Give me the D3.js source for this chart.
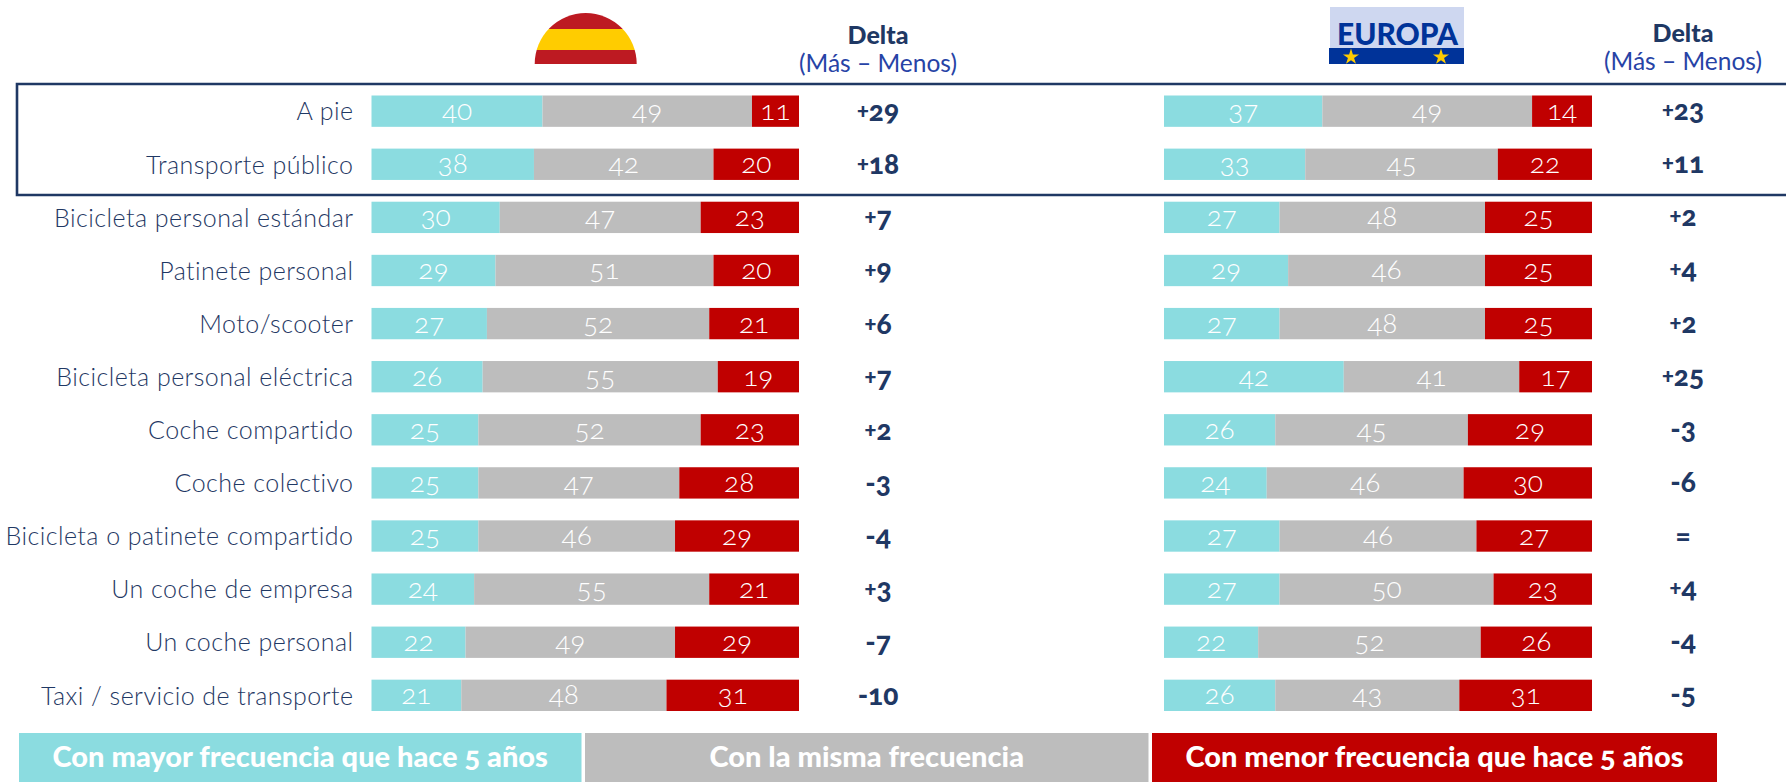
<!DOCTYPE html>
<html><head><meta charset="utf-8">
<script src="https://cdn.jsdelivr.net/npm/d3@7"></script>
<style>
html,body{margin:0;padding:0;background:#fff}
svg{display:block}
text{font-family:Lato,"Open Sans",sans-serif;font-feature-settings:"onum" 1,"lnum" 0;font-variant-numeric:oldstyle-nums}
</style></head><body>
<svg id="c" width="1786" height="782"></svg>
<script>
const categories=["A pie","Transporte público","Bicicleta personal estándar","Patinete personal","Moto/scooter","Bicicleta personal eléctrica","Coche compartido","Coche colectivo","Bicicleta o patinete compartido","Un coche de empresa","Un coche personal","Taxi / servicio de transporte"];
const spainMore=[40,38,30,29,27,26,25,25,25,24,22,21];
const spainSame=[49,42,47,51,52,55,52,47,46,55,49,48];
const spainLess=[11,20,23,20,21,19,23,28,29,21,29,31];
const spainDelta=["+29","+18","+7","+9","+6","+7","+2","-3","-4","+3","-7","-10"];
const europeMore=[37,33,27,29,27,42,26,24,27,27,22,26];
const europeSame=[49,45,48,46,48,41,45,46,46,50,52,43];
const europeLess=[14,22,25,25,25,17,29,30,27,23,26,31];
const europeDelta=["+23","+11","+2","+4","+2","+25","-3","-6","=","+4","-4","-5"];
const legendLabels=["Con mayor frecuencia que hace 5 años","Con la misma frecuencia","Con menor frecuencia que hace 5 años"];
const colors=["#8bdce0","#bdbdbd","#c00000"];
const navy="#1f3864", subBlue="#2743a6";

const svg=d3.select("#c");
const y=d3.scaleBand().domain(categories).range([95.5,711]).paddingInner(0.41);

// category labels
const axis=svg.append("g").attr("transform","translate(371.5,0)")
  .call(d3.axisLeft(y).tickSize(0).tickPadding(18));
axis.select(".domain").remove();
axis.selectAll("text").attr("fill",navy).attr("dy","0.37em").style("font-size","25px").style("font-weight",300).style("font-family","Lato").style("letter-spacing","0.45px");

function panel(x0,x1,more,same,less,delta,deltaX,deltaShift){
  const x=d3.scaleLinear().domain([0,100]).range([x0,x1]);
  const rows=categories.map((c,i)=>{
    const vals=[more[i],same[i],less[i]];
    let acc=0;
    return {c,segs:vals.map((v,k)=>{const s={v,k,a:acc,b:acc+v};acc+=v;return s;})};
  });
  const g=svg.append("g").selectAll("g").data(rows).join("g");
  g.selectAll("rect").data(d=>d.segs.map(s=>({...s,c:d.c}))).join("rect")
    .attr("x",d=>x(d.a)).attr("width",d=>x(d.b)-x(d.a))
    .attr("y",d=>y(d.c)).attr("height",y.bandwidth()).attr("fill",d=>colors[d.k]);
  g.selectAll("text").data(d=>d.segs.map(s=>({...s,c:d.c}))).join("text")
    .attr("x",d=>x((d.a+d.b)/2)).attr("y",d=>y(d.c)+y.bandwidth()/2+9)
    .attr("text-anchor","middle").attr("fill","#fff").style("font-size","28px").style("font-weight",300)
    .text(d=>d.v);
  const dt=svg.append("g").selectAll("text").data(categories).join("text")
    .attr("x",deltaX).attr("y",c=>y(c)+y.bandwidth()/2+9+deltaShift)
    .attr("text-anchor","middle").attr("fill",navy).style("font-size","28px").style("font-weight",900);
  dt.each(function(c,i){
    const s=delta[i], t=d3.select(this), sign=s[0];
    if(sign==="+"){
      t.append("tspan").attr("dy",-3).style("font-size","22px").text("+");
      t.append("tspan").attr("dy",3).text(s.slice(1));
    }else t.text(s);
  });
}
panel(371.5,799,spainMore,spainSame,spainLess,spainDelta,878,1);
panel(1164,1592,europeMore,europeSame,europeLess,europeDelta,1683,0);

// highlight frame (open on the right)
svg.append("path").attr("d","M1786,84 H17 V195 H1786").attr("fill","none").attr("stroke",navy).attr("stroke-width",2.6);

// column heads
[[878,43.5,72],[1683,41.5,70]].forEach(([cx,a,b])=>{
  svg.append("text").attr("x",cx).attr("y",a).attr("text-anchor","middle").attr("fill",navy).style("font-size","25px").style("font-weight",900).text("Delta");
  svg.append("text").attr("x",cx).attr("y",b).attr("text-anchor","middle").attr("fill",subBlue).style("font-size","24.5px").style("font-weight",400).text("(Más – Menos)");
});

// Spanish flag half disc
const defs=svg.append("defs");
defs.append("clipPath").attr("id","half").append("path").attr("d",d3.arc()({innerRadius:0,outerRadius:51,startAngle:-Math.PI/2,endAngle:Math.PI/2})).attr("transform","translate(585.7,64)");
const flag=svg.append("g").attr("clip-path","url(#half)");
[[13,29,"#bd1a22"],[29,50,"#ffcc00"],[50,64,"#bd1a22"]].forEach(([a,b,f])=>flag.append("rect").attr("x",534).attr("width",104).attr("y",a).attr("height",b-a).attr("fill",f));

// Europa badge
svg.append("rect").attr("x",1330).attr("y",7).attr("width",134).attr("height",41).attr("fill","#ced7f0");
svg.append("rect").attr("x",1329).attr("y",48).attr("width",135).attr("height",16).attr("fill","#003399");
svg.append("text").attr("x",1397.5).attr("y",44.5).attr("text-anchor","middle").attr("fill","#003399")
  .attr("textLength",121).attr("lengthAdjust","spacingAndGlyphs").style("font-size","31px").style("font-weight",900).text("EUROPA");
[1351,1441].forEach(cx=>svg.append("path").attr("d",d3.symbol(d3.symbolStar,80)()).attr("transform",`translate(${cx},57)`).attr("fill","#ffcc00"));

// legend
const legBoxes=[[19,581.5],[585,1148.5],[1152,1717]];
svg.append("g").selectAll("rect").data(legendLabels).join("rect")
  .attr("x",(d,i)=>legBoxes[i][0]).attr("width",(d,i)=>legBoxes[i][1]-legBoxes[i][0])
  .attr("y",733).attr("height",49).attr("fill",(d,i)=>colors[i]);
svg.append("g").selectAll("text").data(legendLabels).join("text")
  .attr("x",(d,i)=>(legBoxes[i][0]+legBoxes[i][1])/2).attr("y",767)
  .attr("text-anchor","middle").attr("fill","#fff").style("font-size","29px").style("font-weight",900).text(d=>d);
</script>
</body></html>
